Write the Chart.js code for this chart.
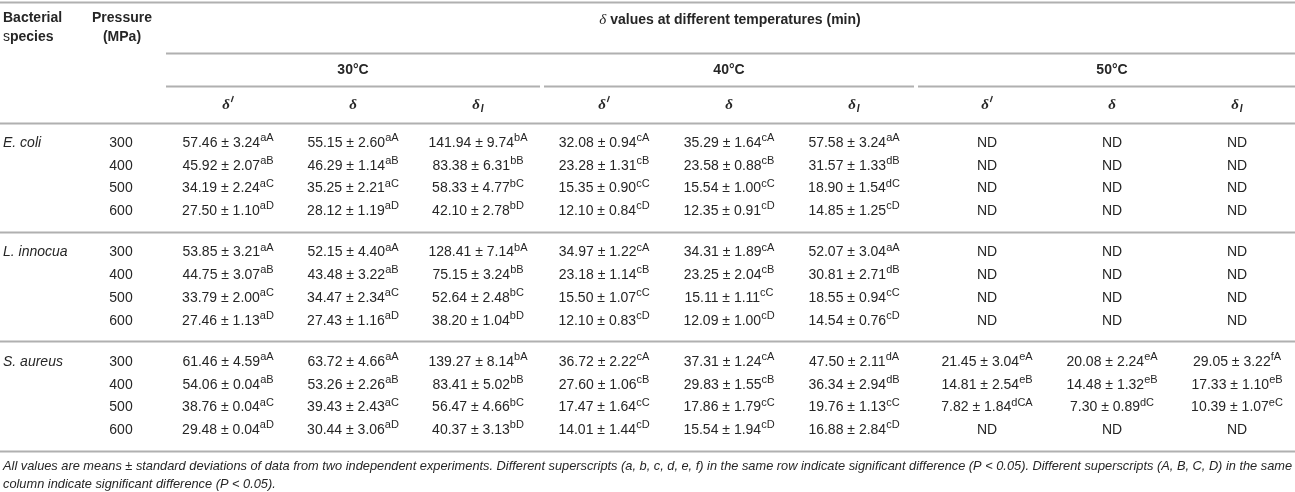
<!DOCTYPE html>
<html>
<head>
<meta charset="utf-8">
<title>δ values at different temperatures</title>
<script src="https://cdn.jsdelivr.net/npm/chart.js@4.4.1/dist/chart.umd.min.js"></script>
<style>
    html, body { margin: 0; padding: 0; background: #fff; }
    .wrap { position: relative; width: 1295px; height: 492px; }
</style>
</head>
<body>
<div class="wrap"><canvas id="tableChart"></canvas></div>
<script>
// Table content
const speciesNames = ['E. coli', 'L. innocua', 'S. aureus'];
const pressureLevels = [300, 400, 500, 600];
const temperatures = ['30°C', '40°C', '50°C'];
const deltaKinds = ['prime', 'plain', 'sub']; // δ′, δ, δI under each temperature

// means, standard deviations and superscripts, rows = pressure, cols = 9 δ columns (null = ND)
const ecoliMean = [
    [57.46, 55.15, 141.94, 32.08, 35.29, 57.58, null, null, null],
    [45.92, 46.29, 83.38, 23.28, 23.58, 31.57, null, null, null],
    [34.19, 35.25, 58.33, 15.35, 15.54, 18.90, null, null, null],
    [27.50, 28.12, 42.10, 12.10, 12.35, 14.85, null, null, null]
];
const ecoliSd = [
    [3.24, 2.60, 9.74, 0.94, 1.64, 3.24],
    [2.07, 1.14, 6.31, 1.31, 0.88, 1.33],
    [2.24, 2.21, 4.77, 0.90, 1.00, 1.54],
    [1.10, 1.19, 2.78, 0.84, 0.91, 1.25]
];
const ecoliSup = [
    ['aA', 'aA', 'bA', 'cA', 'cA', 'aA'],
    ['aB', 'aB', 'bB', 'cB', 'cB', 'dB'],
    ['aC', 'aC', 'bC', 'cC', 'cC', 'dC'],
    ['aD', 'aD', 'bD', 'cD', 'cD', 'cD']
];

const innocuaMean = [
    [53.85, 52.15, 128.41, 34.97, 34.31, 52.07, null, null, null],
    [44.75, 43.48, 75.15, 23.18, 23.25, 30.81, null, null, null],
    [33.79, 34.47, 52.64, 15.50, 15.11, 18.55, null, null, null],
    [27.46, 27.43, 38.20, 12.10, 12.09, 14.54, null, null, null]
];
const innocuaSd = [
    [3.21, 4.40, 7.14, 1.22, 1.89, 3.04],
    [3.07, 3.22, 3.24, 1.14, 2.04, 2.71],
    [2.00, 2.34, 2.48, 1.07, 1.11, 0.94],
    [1.13, 1.16, 1.04, 0.83, 1.00, 0.76]
];
const innocuaSup = [
    ['aA', 'aA', 'bA', 'cA', 'cA', 'aA'],
    ['aB', 'aB', 'bB', 'cB', 'cB', 'dB'],
    ['aC', 'aC', 'bC', 'cC', 'cC', 'cC'],
    ['aD', 'aD', 'bD', 'cD', 'cD', 'cD']
];

const aureusMean = [
    [61.46, 63.72, 139.27, 36.72, 37.31, 47.50, 21.45, 20.08, 29.05],
    [54.06, 53.26, 83.41, 27.60, 29.83, 36.34, 14.81, 14.48, 17.33],
    [38.76, 39.43, 56.47, 17.47, 17.86, 19.76, 7.82, 7.30, 10.39],
    [29.48, 30.44, 40.37, 14.01, 15.54, 16.88, null, null, null]
];
const aureusSd = [
    [4.59, 4.66, 8.14, 2.22, 1.24, 2.11, 3.04, 2.24, 3.22],
    [0.04, 2.26, 5.02, 1.06, 1.55, 2.94, 2.54, 1.32, 1.10],
    [0.04, 2.43, 4.66, 1.64, 1.79, 1.13, 1.84, 0.89, 1.07],
    [0.04, 3.06, 3.13, 1.44, 1.94, 2.84]
];
const aureusSup = [
    ['aA', 'aA', 'bA', 'cA', 'cA', 'dA', 'eA', 'eA', 'fA'],
    ['aB', 'aB', 'bB', 'cB', 'cB', 'dB', 'eB', 'eB', 'eB'],
    ['aC', 'aC', 'bC', 'cC', 'cC', 'cC', 'dCA', 'dC', 'eC'],
    ['aD', 'aD', 'bD', 'cD', 'cD', 'cD']
];

const footnoteLines = [
    'All values are means ± standard deviations of data from two independent experiments. Different superscripts (a, b, c, d, e, f) in the same row indicate significant difference (P < 0.05). Different superscripts (A, B, C, D) in the same',
    'column indicate significant difference (P < 0.05).'
];

// Layout (scale units)
const W = 1295, H = 492;
const groupCenters = [353, 729, 1112];
const colStep = 125;
const firstRowY = 143, rowStep = 22.8, groupStep = 109.5;
const SANS = '"Liberation Sans", Arial, Helvetica, sans-serif';
const SERIF = '"Liberation Serif", "Times New Roman", serif';
const TEXT = '#262626';
const RULE = '#b0b0b0';

const colX = [];
groupCenters.forEach(gc => { colX.push(gc - colStep, gc, gc + colStep); });
const rowY = (g, i) => firstRowY + g * groupStep + i * rowStep;

const speciesData = [
    { mean: ecoliMean, sd: ecoliSd, sup: ecoliSup },
    { mean: innocuaMean, sd: innocuaSd, sup: innocuaSup },
    { mean: aureusMean, sd: aureusSd, sup: aureusSup }
];

const datasets = speciesData.map((sp, g) => {
    const pts = [];
    sp.mean.forEach((row, i) => {
        row.forEach((m, c) => {
            pts.push({ x: colX[c], y: rowY(g, i), mean: m, sd: m === null ? null : sp.sd[i][c], sup: m === null ? '' : sp.sup[i][c] });
        });
    });
    return { label: speciesNames[g], data: pts, pointRadius: 0, pointHoverRadius: 0, showLine: false };
});

function hline(chart, x1, x2, yv) {
    const { ctx, scales: { x, y } } = chart;
    const py = Math.round(y.getPixelForValue(yv)) + 0.5;
    ctx.beginPath();
    ctx.moveTo(x.getPixelForValue(x1), py);
    ctx.lineTo(x.getPixelForValue(x2), py);
    ctx.stroke();
}

function drawDelta(ctx, kind, px, py) {
    ctx.textBaseline = 'middle';
    ctx.textAlign = 'left';
    ctx.font = 'italic bold 15px ' + SERIF;
    const wd = ctx.measureText('δ').width;
    const we = kind === 'plain' ? 0 : 4;
    const start = px - (wd + we) / 2;
    ctx.fillText('δ', start, py);
    if (kind === 'prime') {
        // little slanted prime stroke
        ctx.save();
        ctx.strokeStyle = TEXT;
        ctx.lineWidth = 1.3;
        ctx.beginPath();
        ctx.moveTo(start + wd + 3.5, py - 9);
        ctx.lineTo(start + wd + 1.5, py - 3);
        ctx.stroke();
        ctx.restore();
    }
    if (kind === 'sub') {
        ctx.font = 'italic bold 10px ' + SANS;
        ctx.fillText('I', start + wd + 1, py + 4);
    }
}

const tablePlugin = {
    id: 'tableText',
    afterDatasetsDraw(chart) {
        const { ctx, scales: { x, y } } = chart;
        ctx.save();
        ctx.fillStyle = TEXT;
        ctx.strokeStyle = RULE;
        ctx.lineWidth = 1.8;

        // rules
        hline(chart, 0, W, 2);
        hline(chart, 166, W, 53);
        hline(chart, 166, 540, 86);
        hline(chart, 544, 914, 86);
        hline(chart, 918, W, 86);
        hline(chart, 0, W, 123);
        speciesNames.forEach((s, g) => hline(chart, 0, W, rowY(g, 3) + 20.5));

        // header
        ctx.textBaseline = 'middle';
        ctx.textAlign = 'left';
        ctx.font = 'bold 14px ' + SANS;
        ctx.fillText('Bacterial', x.getPixelForValue(3), y.getPixelForValue(18));
        ctx.font = '14px ' + SANS;
        ctx.fillText('s', x.getPixelForValue(3), y.getPixelForValue(37));
        const sw = ctx.measureText('s').width;
        ctx.font = 'bold 14px ' + SANS;
        ctx.fillText('pecies', x.getPixelForValue(3) + sw, y.getPixelForValue(37));
        ctx.textAlign = 'center';
        ctx.fillText('Pressure', x.getPixelForValue(122), y.getPixelForValue(18));
        ctx.fillText('(MPa)', x.getPixelForValue(122), y.getPixelForValue(37));

        // spanning title
        const title = ' values at different temperatures (min)';
        ctx.font = 'bold 14px ' + SANS;
        const tw = ctx.measureText(title).width;
        ctx.font = 'italic 15px ' + SERIF;
        const dw = ctx.measureText('δ').width;
        const tx = x.getPixelForValue(730) - (tw + dw) / 2;
        const ty = y.getPixelForValue(20);
        ctx.textAlign = 'left';
        ctx.fillText('δ', tx, ty);
        ctx.font = 'bold 14px ' + SANS;
        ctx.fillText(title, tx + dw, ty);

        ctx.textAlign = 'center';
        temperatures.forEach((t, k) => {
            ctx.font = 'bold 14px ' + SANS;
            ctx.fillText(t, x.getPixelForValue(groupCenters[k]), y.getPixelForValue(70));
        });
        colX.forEach((cx, c) => drawDelta(ctx, deltaKinds[c % 3], x.getPixelForValue(cx), y.getPixelForValue(105)));

        // species and pressure
        speciesNames.forEach((s, g) => {
            ctx.textAlign = 'left';
            ctx.font = 'italic 14px ' + SANS;
            ctx.fillText(s, x.getPixelForValue(3), y.getPixelForValue(rowY(g, 0)));
            ctx.textAlign = 'center';
            ctx.font = '14px ' + SANS;
            pressureLevels.forEach((p, i) => {
                ctx.fillText(String(p), x.getPixelForValue(121), y.getPixelForValue(rowY(g, i)));
            });
        });

        // value cells, placed at the dataset points
        chart.data.datasets.forEach((ds, d) => {
            const meta = chart.getDatasetMeta(d);
            meta.data.forEach((el, k) => {
                const cell = ds.data[k];
                ctx.textBaseline = 'middle';
                if (cell.mean === null) {
                    ctx.textAlign = 'center';
                    ctx.font = '14px ' + SANS;
                    ctx.fillText('ND', el.x, el.y);
                    return;
                }
                const main = cell.mean.toFixed(2) + ' ± ' + cell.sd.toFixed(2);
                ctx.font = '14px ' + SANS;
                const w1 = ctx.measureText(main).width;
                ctx.font = '11px ' + SANS;
                const w2 = ctx.measureText(cell.sup).width;
                const start = el.x - (w1 + w2) / 2;
                ctx.textAlign = 'left';
                ctx.font = '14px ' + SANS;
                ctx.fillText(main, start, el.y);
                ctx.font = '11px ' + SANS;
                ctx.fillText(cell.sup, start + w1, el.y - 5);
            });
        });

        // footnote
        ctx.textAlign = 'left';
        ctx.font = 'italic 12.8px ' + SANS;
        footnoteLines.forEach((line, i) => {
            ctx.fillText(line, x.getPixelForValue(3), y.getPixelForValue(466 + i * 18));
        });
        ctx.restore();
    }
};

const chart = new Chart(document.getElementById('tableChart'), {
    type: 'scatter',
    data: { datasets: datasets },
    options: {
        responsive: true,
        maintainAspectRatio: false,
        animation: false,
        events: [],
        layout: { padding: 0 },
        plugins: { legend: { display: false }, tooltip: { enabled: false } },
        scales: {
            x: { type: 'linear', min: 0, max: W, display: false },
            y: { type: 'linear', min: 0, max: H, reverse: true, display: false }
        }
    },
    plugins: [tablePlugin]
});
</script>
</body>
</html>
